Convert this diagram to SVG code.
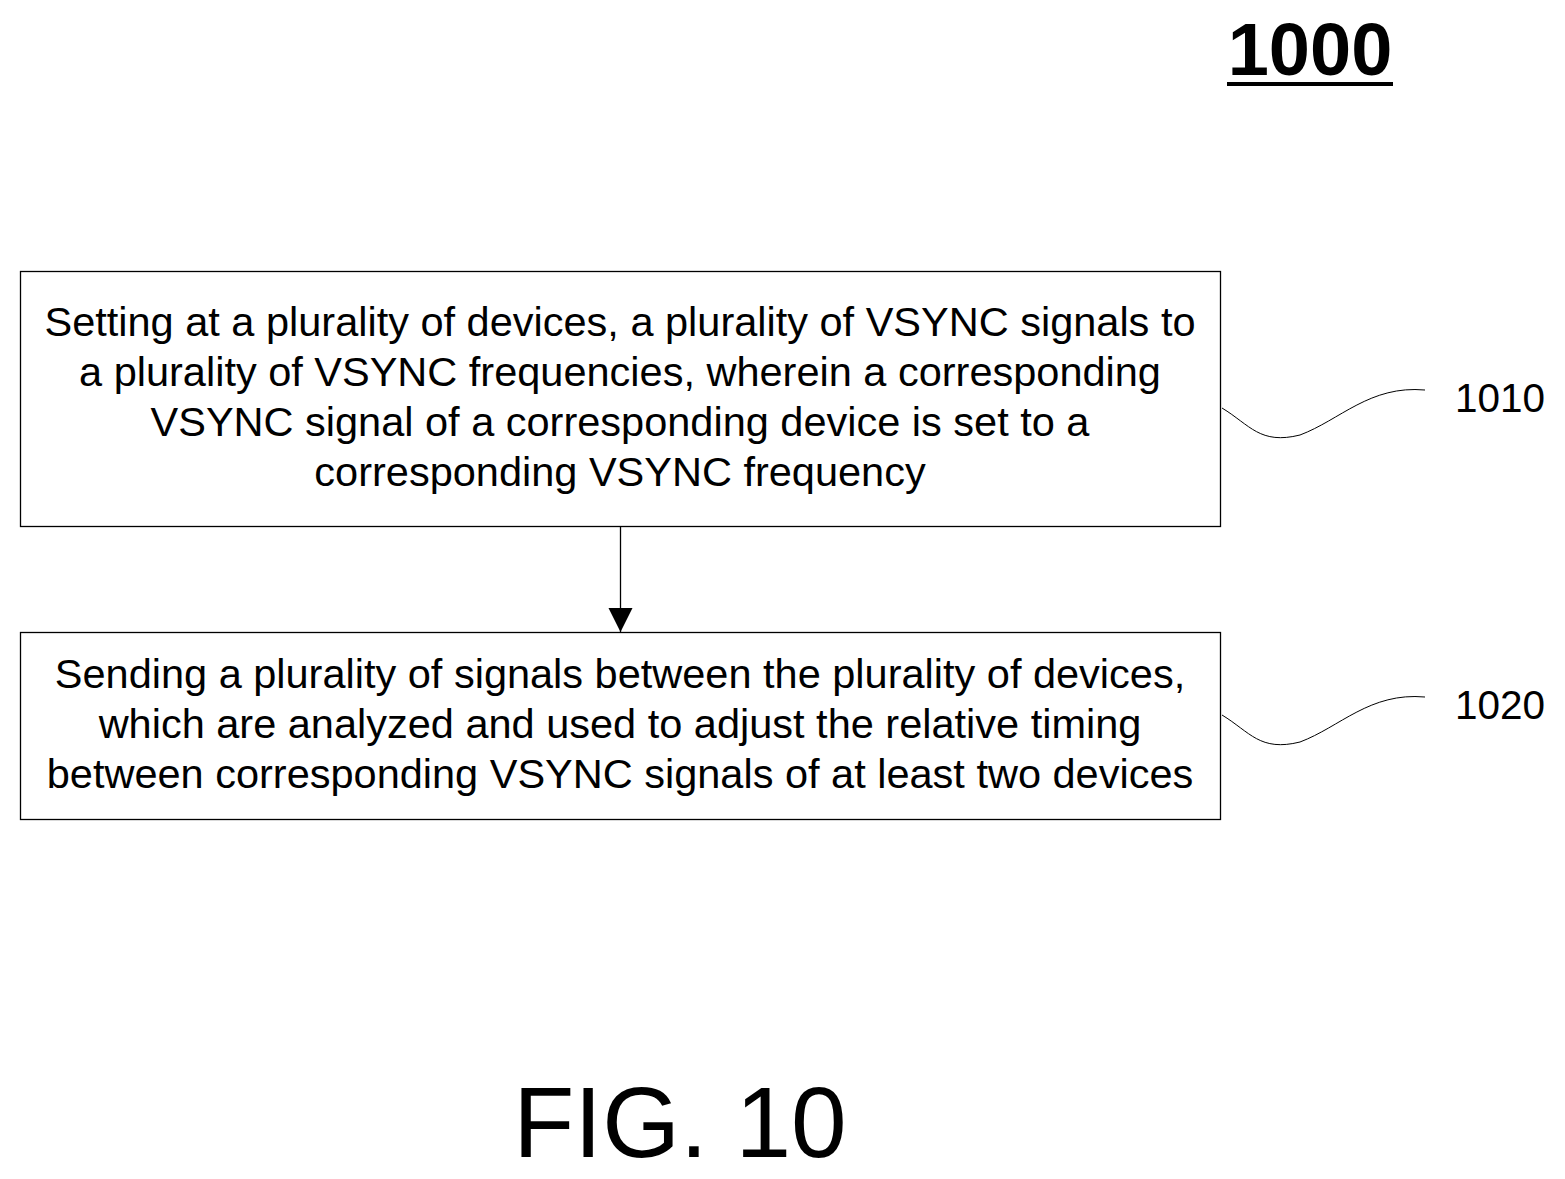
<svg xmlns="http://www.w3.org/2000/svg" width="1565" height="1179" viewBox="0 0 1565 1179">
<style>
.box{fill:#fff;stroke:#000;stroke-width:1.3}
.t{font-family:"Liberation Sans",Arial,sans-serif;font-size:41.5px;text-anchor:middle}
.lbl{font-family:"Liberation Sans",Arial,sans-serif;font-size:40.5px}
.sq{fill:none;stroke:#000;stroke-width:1}
</style>
<defs><marker id="ah" markerWidth="24" markerHeight="36" refX="24" refY="12" orient="auto" markerUnits="userSpaceOnUse"><path d="M0,0 L24,12 L0,24 Z"/></marker></defs>
<rect width="1565" height="1179" fill="#fff"/>
<text x="1310" y="75" font-family="Liberation Sans,Arial,sans-serif" font-size="74" font-weight="bold" text-anchor="middle">1000</text>
<line x1="1227" y1="84" x2="1393" y2="84" stroke="#000" stroke-width="4"/>
<g id="n1010">
<rect class="box" x="20.5" y="271.5" width="1200" height="255"/>
<text class="t" x="620" y="336">Setting at a plurality of devices, a plurality of VSYNC signals to</text>
<text class="t" x="620" y="386">a plurality of VSYNC frequencies, wherein a corresponding</text>
<text class="t" x="620" y="436">VSYNC signal of a corresponding device is set to a</text>
<text class="t" x="620" y="486">corresponding VSYNC frequency</text>
<text class="lbl" x="1455" y="412">1010</text>
</g>
<g id="n1020">
<rect class="box" x="20.5" y="632.5" width="1200" height="187"/>
<text class="t" x="620" y="688">Sending a plurality of signals between the plurality of devices,</text>
<text class="t" x="620" y="738">which are analyzed and used to adjust the relative timing</text>
<text class="t" x="620" y="788">between corresponding VSYNC signals of at least two devices</text>
<text class="lbl" x="1455" y="719">1020</text>
</g>
<g id="connectors">
<line x1="620.5" y1="527" x2="620.5" y2="632" stroke="#000" stroke-width="1.3" marker-end="url(#ah)"/>
<path class="sq" d="M1222,408 C1250,425 1260,445 1300,435 C1340,420 1370,385 1425,390"/>
<path class="sq" d="M1222,715 C1250,732 1260,752 1300,742 C1340,727 1370,692 1425,697"/>
</g>
<text x="680" y="1157" font-family="Liberation Sans,Arial,sans-serif" font-size="100" text-anchor="middle">FIG. 10</text>
</svg>
